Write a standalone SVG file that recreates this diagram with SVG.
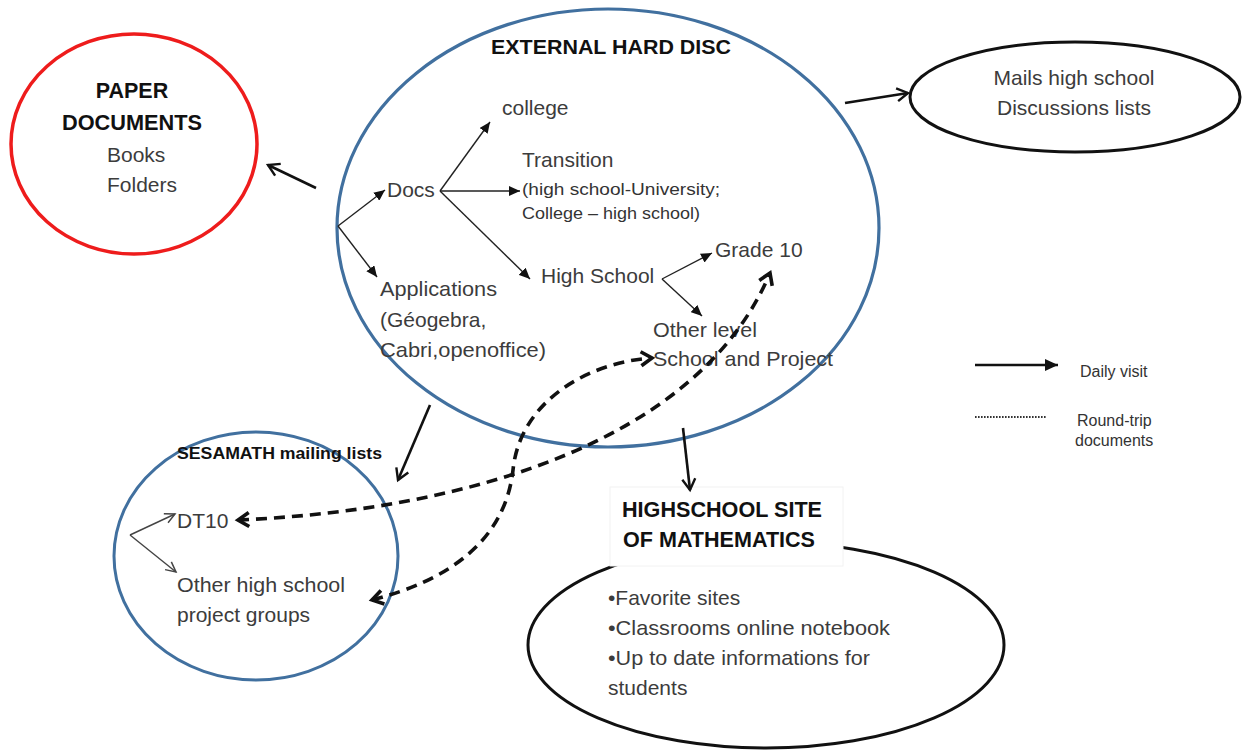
<svg xmlns="http://www.w3.org/2000/svg" width="1242" height="753" viewBox="0 0 1242 753">
<style>
.t{font-family:"Liberation Sans",Arial,sans-serif;font-size:21px;fill:#3c3c3c}
.s{font-family:"Liberation Sans",Arial,sans-serif;font-size:16px;fill:#333}
.b{font-family:"Liberation Sans",Arial,sans-serif;font-weight:bold;fill:#111}
.tree{stroke:#222;stroke-width:1.4;fill:none;marker-end:url(#tri)}
.solid{stroke:#111;stroke-width:2.6;fill:none;marker-end:url(#chev)}
.thin{stroke:#444;stroke-width:1.4;fill:none;marker-end:url(#chevThin)}
.dash{stroke:#111;stroke-width:3.6;fill:none;stroke-dasharray:11 7;marker-start:url(#dh);marker-end:url(#dh)}
</style>
<defs>
<marker id="tri" markerUnits="userSpaceOnUse" markerWidth="12" markerHeight="10" refX="11" refY="5" orient="auto"><path d="M0,0 L11,5 L0,10 Z" fill="#111"/></marker>
<marker id="triL" markerUnits="userSpaceOnUse" markerWidth="14" markerHeight="12" refX="13" refY="6" orient="auto"><path d="M0,0 L13,6 L0,12 Z" fill="#111"/></marker>
<marker id="chev" markerUnits="userSpaceOnUse" markerWidth="16" markerHeight="16" refX="13" refY="8" orient="auto"><path d="M2,1.5 L13,8 L2,14.5" fill="none" stroke="#111" stroke-width="2.4"/></marker>
<marker id="chevThin" markerUnits="userSpaceOnUse" markerWidth="14" markerHeight="14" refX="12" refY="7" orient="auto"><path d="M2,2 L12,7 L2,12" fill="none" stroke="#444" stroke-width="1.5"/></marker>
<marker id="dh" markerUnits="userSpaceOnUse" markerWidth="18" markerHeight="18" refX="13" refY="9" orient="auto-start-reverse"><path d="M2,2 L13,9 L2,16" fill="none" stroke="#111" stroke-width="3.6"/></marker>
</defs>
<rect width="1242" height="753" fill="#fff"/>

<g id="paper-documents">
<ellipse cx="134" cy="144" rx="123" ry="110" fill="none" stroke="#ee1c1c" stroke-width="3.5"/>
<text class="b" x="132" y="98" font-size="21.5" text-anchor="middle">PAPER</text>
<text class="b" x="132" y="130" font-size="21.5" text-anchor="middle" textLength="140" lengthAdjust="spacingAndGlyphs">DOCUMENTS</text>
<text class="t" x="107" y="162" font-size="22">Books</text>
<text class="t" x="107" y="192" font-size="22">Folders</text>
</g>

<g id="external-hard-disc">
<ellipse cx="608" cy="228" rx="271" ry="219" fill="none" stroke="#41709f" stroke-width="3.2"/>
<text class="b" x="491" y="54" font-size="21" textLength="240" lengthAdjust="spacingAndGlyphs">EXTERNAL HARD DISC</text>
<text class="t" x="502" y="115">college</text>
<text class="t" x="522" y="167">Transition</text>
<text class="s" x="522" y="195" textLength="198" lengthAdjust="spacingAndGlyphs">(high school-University;</text>
<text class="s" x="522" y="219" textLength="178" lengthAdjust="spacingAndGlyphs">College – high school)</text>
<text class="t" x="387" y="197">Docs</text>
<text class="t" x="541" y="283" font-size="22">High School</text>
<text class="t" x="715" y="257">Grade 10</text>
<text class="t" x="653" y="337" textLength="104" lengthAdjust="spacingAndGlyphs">Other level</text>
<text class="t" x="653" y="366" textLength="180" lengthAdjust="spacingAndGlyphs">School and Project</text>
<text class="t" x="380" y="296" textLength="117" lengthAdjust="spacingAndGlyphs">Applications</text>
<text class="t" x="380" y="327">(Géogebra,</text>
<text class="t" x="380" y="357" textLength="166" lengthAdjust="spacingAndGlyphs">Cabri,openoffice)</text>
</g>

<g id="mails">
<ellipse cx="1075" cy="97" rx="165" ry="55" fill="none" stroke="#111" stroke-width="3"/>
<text class="t" x="1074" y="85" font-size="22" text-anchor="middle">Mails high school</text>
<text class="t" x="1074" y="115" font-size="22" text-anchor="middle">Discussions lists</text>
</g>

<g id="sesamath">
<ellipse cx="256" cy="556" rx="142" ry="124" fill="none" stroke="#41709f" stroke-width="3"/>
<text class="b" x="177" y="459" font-size="16" textLength="205" lengthAdjust="spacingAndGlyphs">SESAMATH mailing lists</text>
<text class="t" x="177" y="528">DT10</text>
<text class="t" x="177" y="592" textLength="168" lengthAdjust="spacingAndGlyphs">Other high school</text>
<text class="t" x="177" y="622">project groups</text>
</g>

<g id="highschool-site">
<ellipse cx="766" cy="645" rx="238" ry="103" fill="none" stroke="#111" stroke-width="3"/>
<rect x="610" y="487" width="233" height="79" fill="#fff" stroke="#f2f2f2" stroke-width="1"/>
<text class="b" x="622" y="517" font-size="22.5" textLength="200" lengthAdjust="spacingAndGlyphs">HIGHSCHOOL SITE</text>
<text class="b" x="623" y="547" font-size="22.5" textLength="192" lengthAdjust="spacingAndGlyphs">OF MATHEMATICS</text>
<text class="t" x="608" y="605">•Favorite sites</text>
<text class="t" x="608" y="635" textLength="282" lengthAdjust="spacingAndGlyphs">•Classrooms online notebook</text>
<text class="t" x="608" y="665" textLength="262" lengthAdjust="spacingAndGlyphs">•Up to date informations for</text>
<text class="t" x="608" y="695">students</text>
</g>

<g id="legend">
<line x1="975" y1="365" x2="1058" y2="365" stroke="#111" stroke-width="2.6" marker-end="url(#triL)"/>
<text class="s" x="1080" y="377">Daily visit</text>
<line x1="975" y1="417" x2="1047" y2="417" stroke="#333" stroke-width="2" stroke-dasharray="1.6 1.4"/>
<text class="s" x="1077" y="426">Round-trip</text>
<text class="s" x="1075" y="446">documents</text>
</g>

<g id="connectors">
<line class="tree" x1="338" y1="226" x2="385" y2="190"/>
<line class="tree" x1="338" y1="226" x2="377" y2="277"/>
<line class="tree" x1="440" y1="191" x2="490" y2="122"/>
<line class="tree" x1="440" y1="191" x2="520" y2="191"/>
<line class="tree" x1="440" y1="191" x2="530" y2="279"/>
<line class="tree" x1="662" y1="279" x2="712" y2="253"/>
<line class="tree" x1="662" y1="279" x2="702" y2="316"/>
<line class="solid" x1="316" y1="188" x2="268" y2="165"/>
<line class="solid" x1="845" y1="103" x2="908" y2="93"/>
<line class="solid" x1="430" y1="405" x2="398" y2="480"/>
<line class="solid" x1="683" y1="428" x2="690" y2="490"/>
<line class="thin" x1="130" y1="535" x2="175" y2="514"/>
<line class="thin" x1="130" y1="535" x2="176" y2="572"/>
<path class="dash" d="M238,520 C470,510 700,440 770,273"/>
<path class="dash" d="M372,600 C450,580 505,540 513,470 C520,400 590,362 652,358"/>
</g>
</svg>
